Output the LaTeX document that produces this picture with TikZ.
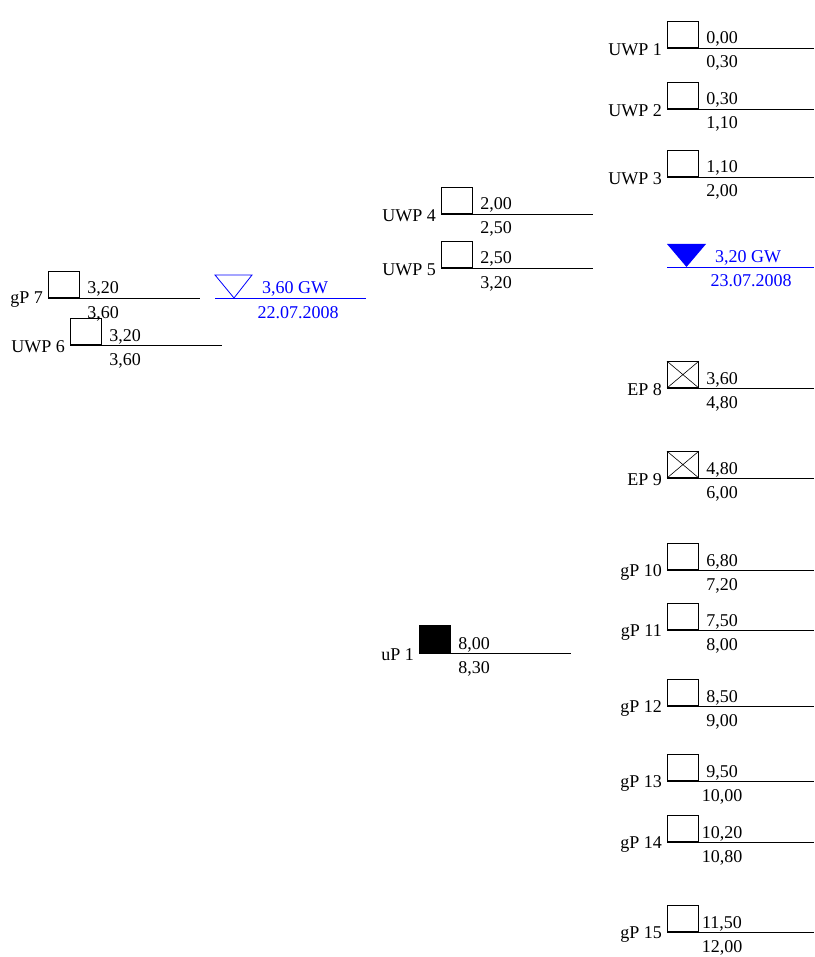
\documentclass[tikz,border=0pt]{standalone}
\usepackage{fontspec}
\setmainfont{Liberation Serif}
\usetikzlibrary{positioning}

\begin{document}
\begin{tikzpicture}[x=1pt,y=-1pt]
  \tikzset{every node/.style={inner sep=0pt, font=\fontsize{18}{22}\selectfont},
           pbox/.style={draw, line width=0.8pt, minimum width=31pt, minimum height=26pt, anchor=south west},
           lbl/.style={anchor=east, xshift=-5pt, yshift=-2pt},
           numup/.style={anchor=base, xshift=55pt, yshift=4pt},
           numdown/.style={anchor=base, xshift=55pt, yshift=-20pt},
           ground/.style={line width=0.8pt},
           gwline/.style={draw=blue, line width=0.8pt},
           gwtext/.style={text=blue, anchor=base}}
  \useasboundingbox (0,0) rectangle (814,957);

  % left column
  \node[pbox] (g7) at (48,298) {};
  \node[lbl] (g7l) at (g7.south west) {gP 7};
  \node[numup] (g7t) at (g7.south west) {3,20};
  \node[numdown] (g7b) at (g7.south west) {3,60};
  \draw[ground] (g7.south west) -- ++(152,0);

  \node[pbox] (u6) at (70,345) {};
  \node[lbl] (u6l) at (u6.south west) {UWP 6};
  \node[numup] (u6t) at (u6.south west) {3,20};
  \node[numdown] (u6b) at (u6.south west) {3,60};
  \draw[ground] (u6.south west) -- ++(152,0);

  \coordinate (gw1) at (215,298);
  \draw[gwline] (gw1) -- ++(151,0);
  \draw[gwline] ([shift={(0,-23)}]gw1) -- ++(37,0) -- ([shift={(19,0)}]gw1) -- cycle;
  \node[gwtext] (gw1t) at ([shift={(80,-4)}]gw1) {3,60 GW};
  \node[gwtext] (gw1d) at ([shift={(83,20)}]gw1) {22.07.2008};

  % middle column
  \node[pbox] (u4) at (441,214) {};
  \node[lbl] (u4l) at (u4.south west) {UWP 4};
  \node[numup] (u4t) at (u4.south west) {2,00};
  \node[numdown] (u4b) at (u4.south west) {2,50};
  \draw[ground] (u4.south west) -- ++(152,0);

  \node[pbox] (u5) at (441,268) {};
  \node[lbl] (u5l) at (u5.south west) {UWP 5};
  \node[numup] (u5t) at (u5.south west) {2,50};
  \node[numdown] (u5b) at (u5.south west) {3,20};
  \draw[ground] (u5.south west) -- ++(152,0);

  \node[pbox, fill=black, minimum height=27pt] (up1) at (419,653) {};
  \node[lbl] (up1l) at (up1.south west) {uP 1};
  \node[numup] (up1t) at (up1.south west) {8,00};
  \node[numdown] (up1b) at (up1.south west) {8,30};
  \draw[ground] (up1.south west) -- ++(152,0);

  % right column
  \node[pbox] (u1) at (667,48) {};
  \node[lbl] (u1l) at (u1.south west) {UWP 1};
  \node[numup] (u1t) at (u1.south west) {0,00};
  \node[numdown] (u1b) at (u1.south west) {0,30};
  \draw[ground] (u1.south west) -- ++(147,0);

  \node[pbox] (u2) at (667,109) {};
  \node[lbl] (u2l) at (u2.south west) {UWP 2};
  \node[numup] (u2t) at (u2.south west) {0,30};
  \node[numdown] (u2b) at (u2.south west) {1,10};
  \draw[ground] (u2.south west) -- ++(147,0);

  \node[pbox] (u3) at (667,177) {};
  \node[lbl] (u3l) at (u3.south west) {UWP 3};
  \node[numup] (u3t) at (u3.south west) {1,10};
  \node[numdown] (u3b) at (u3.south west) {2,00};
  \draw[ground] (u3.south west) -- ++(147,0);

  \coordinate (gw2) at (667,267);
  \draw[gwline] (gw2) -- ++(147,0);
  \fill[blue] ([shift={(0,-23)}]gw2) -- ++(39,0) -- ([shift={(19.5,0)}]gw2) -- cycle;
  \node[gwtext] (gw2t) at ([shift={(81,-4)}]gw2) {3,20 GW};
  \node[gwtext] (gw2d) at ([shift={(84,20)}]gw2) {23.07.2008};

  \node[pbox] (e8) at (667,388) {};
  \draw[line width=0.6pt] (e8.north west) -- (e8.south east) (e8.south west) -- (e8.north east);
  \node[lbl] (e8l) at (e8.south west) {EP 8};
  \node[numup] (e8t) at (e8.south west) {3,60};
  \node[numdown] (e8b) at (e8.south west) {4,80};
  \draw[ground] (e8.south west) -- ++(147,0);

  \node[pbox] (e9) at (667,478) {};
  \draw[line width=0.6pt] (e9.north west) -- (e9.south east) (e9.south west) -- (e9.north east);
  \node[lbl] (e9l) at (e9.south west) {EP 9};
  \node[numup] (e9t) at (e9.south west) {4,80};
  \node[numdown] (e9b) at (e9.south west) {6,00};
  \draw[ground] (e9.south west) -- ++(147,0);

  \node[pbox] (g10) at (667,570) {};
  \node[lbl] (g10l) at (g10.south west) {gP 10};
  \node[numup] (g10t) at (g10.south west) {6,80};
  \node[numdown] (g10b) at (g10.south west) {7,20};
  \draw[ground] (g10.south west) -- ++(147,0);

  \node[pbox] (g11) at (667,630) {};
  \node[lbl] (g11l) at (g11.south west) {gP 11};
  \node[numup] (g11t) at (g11.south west) {7,50};
  \node[numdown] (g11b) at (g11.south west) {8,00};
  \draw[ground] (g11.south west) -- ++(147,0);

  \node[pbox] (g12) at (667,706) {};
  \node[lbl] (g12l) at (g12.south west) {gP 12};
  \node[numup] (g12t) at (g12.south west) {8,50};
  \node[numdown] (g12b) at (g12.south west) {9,00};
  \draw[ground] (g12.south west) -- ++(147,0);

  \node[pbox] (g13) at (667,781) {};
  \node[lbl] (g13l) at (g13.south west) {gP 13};
  \node[numup] (g13t) at (g13.south west) {9,50};
  \node[numdown] (g13b) at (g13.south west) {10,00};
  \draw[ground] (g13.south west) -- ++(147,0);

  \node[pbox] (g14) at (667,842) {};
  \node[lbl] (g14l) at (g14.south west) {gP 14};
  \node[numup] (g14t) at (g14.south west) {10,20};
  \node[numdown] (g14b) at (g14.south west) {10,80};
  \draw[ground] (g14.south west) -- ++(147,0);

  \node[pbox] (g15) at (667,932) {};
  \node[lbl] (g15l) at (g15.south west) {gP 15};
  \node[numup] (g15t) at (g15.south west) {11,50};
  \node[numdown] (g15b) at (g15.south west) {12,00};
  \draw[ground] (g15.south west) -- ++(147,0);
\end{tikzpicture}
\end{document}
